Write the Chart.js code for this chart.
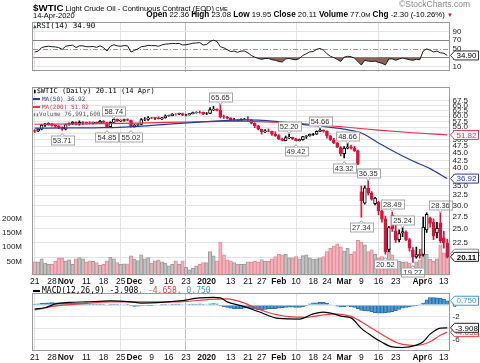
<!DOCTYPE html>
<html>
<head>
<meta charset="utf-8">
<script src="https://cdn.jsdelivr.net/npm/chart.js@4.4.1/dist/chart.umd.min.js"></script>
<style>
html, body { margin: 0; padding: 0; background: #fff; }
#wrap { position: relative; width: 480px; height: 363px; overflow: hidden; font-family: "Liberation Sans", Arial, sans-serif; color: #000; }
canvas { position: absolute; left: 0; }
.t { position: absolute; white-space: nowrap; }
.leg { position: absolute; white-space: nowrap; font-family: "DejaVu Sans Mono", monospace; font-size: 7.5px; line-height: 9px; }
.dash { display: inline-block; width: 7px; height: 2px; vertical-align: middle; margin-right: 2px; }
.st b { font-size: 8.2px; }
</style>
</head>
<body>
<div id="wrap">
  <canvas id="rsi" width="480" height="66" style="top:14px"></canvas>
  <canvas id="price" width="480" height="208" style="top:79px"></canvas>
  <canvas id="macd" width="480" height="78" style="top:285px"></canvas>

  <div class="t" style="left:33px;top:0px;line-height:12px"><b style="font-size:9.8px">$WTIC</b><span style="font-size:7.5px"> Light Crude Oil - Continuous Contract (EOD)</span><span style="font-size:5.5px"> CME</span></div>
  <div class="t" style="right:10px;top:0px;font-size:8.5px;line-height:9px;color:#888">©StockCharts.com</div>
  <div class="t" style="left:33px;top:10.5px;font-size:7.5px;line-height:9px">14-Apr-2020</div>
  <div class="t st" style="right:27px;top:10px;font-size:7.8px;line-height:9px"><b>Open</b> 22.36 <b>High</b> 23.08 <b>Low</b> 19.95 <b>Close</b> 20.11 <b>Volume</b> 77.0<span style="font-size:6.2px">M</span> <b>Chg</b> -2.30 (-10.26%) <span style="color:#c8102e;font-size:6px">▼</span></div>

  <div class="leg" style="left:33px;top:20.5px"><span style="color:#2d6b2d;font-size:6px">▲</span>RSI(14) 34.90</div>

  <div class="leg" style="left:33px;top:86px;font-size:7px"><span style="font-size:6px">▮</span>$WTIC (Daily) 20.11 (14 Apr)</div>
  <div class="leg" style="left:33px;top:94px;font-size:6px;color:#2b3a9e"><i class="dash" style="background:#2b3a9e"></i>MA(50) 36.92</div>
  <div class="leg" style="left:33px;top:101.5px;font-size:6px;color:#e3344c"><i class="dash" style="background:#e3344c"></i>MA(200) 51.82</div>
  <div class="leg" style="left:33px;top:108.5px;font-size:6px;color:#555"><span style="font-size:5px;color:#777">▮▮</span>Volume 76,991,600</div>

  <div class="leg" style="left:33px;top:286px;font-size:8px"><i class="dash" style="background:#000"></i>MACD(12,26,9) -3.908<span style="color:#f03c3c">, -4.658</span><span style="color:#3d9ad6">, 0.750</span></div>
</div>

<script>
// trading days, 21 Oct 2019 .. 14 Apr 2020
const dates = [
  '10/21','10/22','10/23','10/24','10/25','10/28','10/29','10/30','10/31',
  '11/01','11/04','11/05','11/06','11/07','11/08','11/11','11/12','11/13','11/14','11/15','11/18','11/19','11/20','11/21','11/22','11/25','11/26','11/27','11/29',
  '12/02','12/03','12/04','12/05','12/06','12/09','12/10','12/11','12/12','12/13','12/16','12/17','12/18','12/19','12/20','12/23','12/24','12/26','12/27','12/30','12/31',
  '01/02','01/03','01/06','01/07','01/08','01/09','01/10','01/13','01/14','01/15','01/16','01/17','01/21','01/22','01/23','01/24','01/27','01/28','01/29','01/30','01/31',
  '02/03','02/04','02/05','02/06','02/07','02/10','02/11','02/12','02/13','02/14','02/18','02/19','02/20','02/21','02/24','02/25','02/26','02/27','02/28',
  '03/02','03/03','03/04','03/05','03/06','03/09','03/10','03/11','03/12','03/13','03/16','03/17','03/18','03/19','03/20','03/23','03/24','03/25','03/26','03/27','03/30','03/31',
  '04/01','04/02','04/03','04/06','04/07','04/08','04/09','04/13','04/14'
];

const tickAt   = [0, 5, 9, 15, 20, 25, 29, 34, 39, 44, 50, 57, 62, 66, 71, 76, 81, 85, 90, 95, 100, 105, 112, 115, 119];
const tickText = ['21','28','Nov','11','18','25','Dec','9','16','23','2020','13','21','27','Feb','10','18','24','Mar','9','16','23','Apr','6','13'];
const monthText = ['Nov','Dec','2020','Feb','Mar','Apr'];

const open = [
  53.60,53.40,54.20,55.90,56.10, 56.50,55.80,55.50,55.00,54.20,
  56.20,56.50,57.20,56.30,57.10, 57.10,56.90,56.80,57.10,56.80,
  57.70,57.00,55.30,57.10,58.50, 57.80,58.00,58.40,58.10,55.20,
  56.00,56.20,58.40,58.40,59.20, 59.00,59.20,58.70,59.10,60.10,
  60.20,60.90,60.90,61.20,60.40, 60.50,61.10,61.70,61.70,61.70,
  61.20,61.20,63.10,63.30,62.80, 59.60,59.50,59.00,58.10,58.20,
  57.80,58.50,58.40,58.30,56.70, 55.60,54.10,53.10,53.50,53.30,
  52.10,51.60,50.10,49.60,50.70, 50.90,50.30,49.60,49.90,51.20,
  51.40,52.05,52.10,53.30,53.80, 53.40,51.40,49.90,48.70,47.00,
  44.80,46.80,47.20,46.80,45.90, 33.30,30.50,34.20,33.00,30.40,
  30.70,28.70,27.00,21.30,27.80, 24.60,23.00,24.20,24.40,23.00,
  21.20,20.10,20.50,20.50,24.80, 27.20,26.30,24.20,26.20,23.30,
  22.36
];
const high = [
  54.00,54.36,56.14,56.70,56.90, 56.65,56.00,55.70,55.20,56.40,
  56.90,57.50,57.40,57.80,57.40, 57.30,57.40,57.30,57.30,58.00,
  57.90,57.10,57.40,58.74,58.70, 58.30,58.60,58.70,58.20,56.30,
  56.50,58.80,59.30,59.80,59.40, 59.40,59.60,59.40,60.60,60.50,
  61.10,61.20,61.40,61.40,60.80, 61.20,61.90,62.00,62.30,61.90,
  61.60,64.10,64.70,63.50,65.65, 60.40,59.90,59.30,58.90,58.50,
  58.70,59.00,59.70,58.40,56.90, 55.80,54.20,54.00,54.30,53.40,
  53.10,52.00,50.60,51.40,52.20, 51.00,50.50,50.20,51.30,51.60,
  52.20,52.50,53.50,54.66,53.90, 53.50,51.70,50.50,48.80,47.30,
  47.30,48.66,47.90,47.40,46.10, 34.90,34.90,36.35,33.40,31.90,
  31.00,28.90,27.60,25.50,28.49, 26.30,24.80,25.24,24.60,23.20,
  21.60,21.70,21.30,27.39,28.30, 27.40,27.00,26.30,28.36,24.50,
  23.08
];
const low = [
  52.70,53.10,53.90,55.40,55.90, 55.50,54.90,54.40,53.71,53.90,
  55.90,56.10,56.00,55.90,56.20, 56.30,56.40,56.40,56.50,56.60,
  56.90,54.85,55.00,57.00,57.60, 57.40,57.70,57.90,55.02,55.00,
  55.40,56.00,57.90,58.00,58.80, 58.50,58.60,58.30,59.00,59.90,
  60.00,60.40,60.60,60.20,60.10, 60.40,61.00,61.30,61.40,60.60,
  60.60,61.10,62.60,62.40,59.15, 58.90,58.70,57.90,57.80,57.40,
  57.60,58.20,57.80,56.40,54.80, 53.90,52.10,52.70,53.00,51.60,
  51.20,49.90,49.50,49.50,50.30, 49.90,49.42,49.45,49.80,50.40,
  51.30,51.60,52.00,53.20,52.90, 50.50,49.70,48.40,46.90,44.00,
  43.32,46.50,46.40,45.60,41.10, 27.34,30.30,32.50,31.20,30.10,
  27.90,26.30,20.52,20.90,24.50, 22.50,22.60,23.50,22.80,21.00,
  19.27,19.90,19.90,20.20,24.30, 25.30,23.00,23.30,22.40,21.50,
  19.95
];
const close = [
  53.31,54.16,55.97,56.23,56.66, 55.81,55.54,55.06,54.18,56.20,
  56.54,57.23,56.35,57.15,57.24, 56.86,56.80,57.12,56.77,57.72,
  57.05,55.21,57.11,58.58,57.77, 58.01,58.41,58.11,55.17,55.96,
  56.10,58.43,58.43,59.20,59.02, 59.24,58.76,59.18,60.07,60.21,
  60.94,60.93,61.22,60.44,60.52, 61.11,61.68,61.72,61.68,61.06,
  61.18,63.05,63.27,62.70,59.61, 59.56,59.04,58.08,58.23,57.81,
  58.52,58.54,58.34,56.74,55.59, 54.19,53.14,53.48,53.33,52.14,
  51.56,50.11,49.61,50.75,50.95, 50.32,49.57,49.94,51.17,51.42,
  52.05,52.05,53.29,53.78,53.38, 51.43,49.90,48.73,47.09,44.76,
  46.75,47.18,46.78,45.90,41.28, 31.13,34.36,32.98,31.50,31.73,
  28.70,26.95,20.95,25.22,25.00, 22.90,24.10,24.49,23.00,21.51,
  20.09,20.48,20.31,25.32,28.00, 26.08,23.63,25.09,22.76,22.41,
  20.11
];
const prevClose = 53.78; // close of 18 Oct, colours the first bar

// volume, millions
const volume = [
  48,48,59,44,39, 39,50,62,62,52,
  55,39,59,63,59, 48,52,50,46,36,
  39,52,64,59,46, 39,41,41,69,59,
  53,73,59,63,44, 52,55,48,44,34,
  39,52,39,52,29, 20,25,34,39,46,
  46,84,69,52,118, 73,55,52,46,39,
  39,39,48,47,50, 47,56,50,50,59,
  67,75,73,75,62, 62,67,59,70,73,
  62,58,59,62,67, 84,96,104,112,101,
  86,96,75,84,124, 118,108,84,91,75,
  62,67,59,95,73, 52,50,47,48,44,
  33,48,55,95,75, 57,50,59,108,80,
  77
];

// moving averages read at sample days
const ma50At  = [0, 10, 20, 30, 40, 50, 55, 60, 65, 70, 75, 80, 85, 90, 95, 100, 105, 110, 115, 120];
const ma50Val = [54.6,54.7,54.8,55.4,56.5,57.5,57.9,58.2,58.1,57.6,56.8,55.9,55.2,54.2,52.6,48.7,45.2,42.3,39.9,36.92];
const ma200At  = [0, 15, 30, 45, 55, 62, 70, 80, 90, 100, 110, 120];
const ma200Val = [56.3,56.5,56.8,57.3,57.6,57.6,57.2,56.3,55.1,53.8,52.7,51.82];

const rsi = [
  42.6,45,53,55,56, 55,54.5,53,48.7,56,
  57.5,58.5,53,57,57, 55,55,55.5,53.5,57,
  53,45,56,59.5,57, 56,57.5,57,42.6,46.5,
  50,55,56,58,57.5, 57.5,56,59,61,61.5,
  62.5,62,62.5,59,59.5, 61,63,63.5,64.5,59,
  60,67,70,67,55, 52.5,48,44,45,42,
  45,45,41,35,31, 28,26,28,28,25,
  24,21,20,27,28, 26,25,28,35,39,
  43,44,49,51,47, 39,33,30,26,21,
  31,33,32,29,21, 13,24,22,21,22,
  19,17,13,27,27, 24,27,29,27,25,
  24,26,25,45,50, 47,43,45,41,40,
  34.9
];

const macdAt  = [0,3,6,10,15,22,28,31,37,42,48,52,54,56,60,65,71,77,81,84,87,89,92,95,98,101,104,107,111,113,115,118,120];
const macdVal = [-0.68,-0.46,0.2,0.46,0.56,0.71,0.56,0.35,0.46,0.71,1.23,1.33,1.25,0.56,-0.1,-1.1,-2.3,-2.4,-1.5,-1.2,-1.5,-1.9,-2.2,-4.0,-5.3,-6.4,-7.2,-7.3,-6.9,-6.3,-5.0,-3.95,-3.908];
const sigAt  = [0,6,13,22,30,42,51,56,60,67,74,79,81,87,92,97,102,106,111,115,118,120];
const sigVal = [-0.85,-0.15,0.2,0.56,0.56,0.56,1.0,1.08,0.56,-1.1,-2.0,-2.1,-1.95,-1.5,-1.95,-3.6,-5.4,-6.6,-6.95,-6.3,-5.2,-4.658];
const hist = [
  0.17,0.22,0.3,0.35,0.4, 0.42,0.4,0.38,0.3,0.35,
  0.38,0.4,0.32,0.33,0.3, 0.25,0.2,0.18,0.14,0.16,
  0.12,0.0,0.05,0.15,0.12, 0.1,0.1,0.06,-0.15,-0.22,
  -0.2,-0.12,-0.08,-0.02,-0.02, 0.0,0.0,0.03,0.08,0.1,
  0.14,0.14,0.15,0.1,0.1, 0.12,0.16,0.18,0.2,0.12,
  0.1,0.2,0.25,0.2,-0.05, -0.25,-0.4,-0.55,-0.6,-0.65,
  -0.6,-0.55,-0.5,-0.6,-0.7, -0.8,-0.85,-0.75,-0.65,-0.65,
  -0.6,-0.55,-0.45,-0.4,-0.35, -0.35,-0.4,-0.4,-0.25,-0.1,
  0.2,0.4,0.4,0.5,0.5, 0.3,0.1,0.0,-0.2,-0.3,
  -0.25,-0.2,-0.25,-0.4,-0.65, -0.9,-1.0,-1.05,-1.15,-1.3,
  -1.4,-1.4,-1.35,-1.25,-1.15, -0.95,-0.75,-0.55,-0.4,-0.3,
  -0.2,-0.05,0.1,0.35,0.9, 1.3,1.3,1.25,1.2,1.0,
  0.75
];

// price annotations (highs / lows)
const noteAt   = [8, 23, 21, 28, 54, 74, 76, 83, 91, 90, 97, 95, 104, 107, 102, 110, 118];
const noteVal  = [53.71, 58.74, 54.85, 55.02, 65.65, 52.20, 49.42, 54.66, 48.66, 43.32, 36.35, 27.34, 28.49, 25.24, 20.52, 19.27, 28.36];
const noteSide = ['dn','up','dn','dn','up','up','dn','up','up','dn','up','dn','up','up','dn','dn','up'];

const priceTicks = [20, 22.5, 25, 27.5, 30, 32.5, 35, 37.5, 40, 42.5, 45, 47.5, 50, 52.5, 55, 57.5, 60, 62.5, 65, 67.5];
const volTicks = [50, 100, 150, 200];
const rsiTicks = [10, 30, 50, 70, 90];
const macdTicks = [-6, -4, -2, 0];
const lastVolume = '76,991,600';

const RED = '#e2103a', BLUE = '#2b3a9e', MARED = '#e3344c';

Chart.defaults.font.family = '"Liberation Sans", Arial, sans-serif';
Chart.defaults.font.size = 8;
Chart.defaults.color = '#222';

const tickMap = {};
tickAt.forEach((i, k) => { tickMap[i] = tickText[k]; });
const isMonthLabel = l => monthText.includes(l);
const gridColor = i => tickMap[i] === undefined ? 'rgba(0,0,0,0)' : (isMonthLabel(tickMap[i]) ? '#bdbdbd' : '#e2e2e2');

const pts = (at, val) => at.map((i, k) => ({ x: dates[i], y: val[k] }));
const upDay = close.map((c, i) => c >= (i === 0 ? prevClose : close[i - 1]));
const candleColor = upDay.map(u => u ? '#000' : RED);

function xAxis(labels, h) {
  return {
    type: 'category', offset: true,
    grid: { offset: false, drawTicks: false, color: c => gridColor(c.index) },
    border: { display: false },
    ticks: {
      display: labels, autoSkip: false, maxRotation: 0, minRotation: 0, padding: 1.5, color: '#111',
      callback: (v, i) => tickMap[i] === undefined ? null : tickMap[i],
      font: c => ({ size: 8.5, weight: (c.tick && isMonthLabel(c.tick.label)) ? 'bold' : 'normal' })
    },
    afterFit: s => { s.height = h; }
  };
}
function rightAxis(extra) {
  return Object.assign({
    position: 'right',
    border: { display: false },
    grid: { drawTicks: false, color: '#e4e4e4' },
    ticks: { padding: 3.5, autoSkip: false, font: { size: 8 }, color: '#222' },
    afterFit: s => { s.width = 31; }
  }, extra);
}

const frame = {
  id: 'frame',
  afterDraw(chart) {
    const { ctx, chartArea: a } = chart;
    ctx.save();
    ctx.strokeStyle = '#9a9a9a';
    ctx.lineWidth = 1;
    ctx.strokeRect(Math.round(a.left) - 0.5, Math.round(a.top) + 0.5, Math.round(a.right - a.left) + 1, Math.round(a.bottom - a.top) - 1);
    ctx.restore();
  }
};

function tag(chart, y, text, border, color, bold, size) {
  const ctx = chart.ctx, x0 = chart.chartArea.right + 1.5, x1 = 478.5, h = 9;
  ctx.save();
  ctx.beginPath();
  ctx.moveTo(x0, y);
  ctx.lineTo(x0 + 4, y - h / 2);
  ctx.lineTo(x1, y - h / 2);
  ctx.lineTo(x1, y + h / 2);
  ctx.lineTo(x0 + 4, y + h / 2);
  ctx.closePath();
  ctx.fillStyle = '#fff';
  ctx.fill();
  ctx.strokeStyle = border;
  ctx.lineWidth = 1;
  ctx.stroke();
  ctx.fillStyle = color;
  ctx.font = (bold ? 'bold ' : '') + (size || 8) + 'px "Liberation Sans", Arial, sans-serif';
  ctx.textAlign = 'center';
  ctx.textBaseline = 'middle';
  ctx.fillText(text, (x0 + 4 + x1) / 2, y + 0.5);
  ctx.restore();
}

const common = {
  responsive: false, animation: false, devicePixelRatio: 1, events: [],
  plugins: { legend: { display: false }, tooltip: { enabled: false } }
};

// ---------- RSI ----------
new Chart(document.getElementById('rsi'), {
  type: 'line',
  data: {
    labels: dates,
    datasets: [
      { data: rsi, borderColor: '#1a1a1a', borderWidth: 1, pointRadius: 0, tension: 0,
        fill: { target: { value: 30 }, above: 'rgba(0,0,0,0)', below: 'rgba(120,72,60,0.85)' } },
      { data: rsi, borderWidth: 0, pointRadius: 0, tension: 0,
        fill: { target: { value: 70 }, above: 'rgba(120,72,60,0.85)', below: 'rgba(0,0,0,0)' } }
    ]
  },
  options: Object.assign({}, common, {
    layout: { padding: { left: 33, top: 5, bottom: 1, right: 0 } },
    scales: {
      x: xAxis(false, 0),
      y: rightAxis({
        min: -2.3, max: 110.9,
        afterBuildTicks: s => { s.ticks = rsiTicks.map(v => ({ value: v })); },
        grid: { drawTicks: false, color: c => (c.tick.value === 30 || c.tick.value === 70) ? '#8c8c8c' : (c.tick.value === 50 ? 'rgba(0,0,0,0)' : '#e4e4e4') }
      })
    }
  }),
  plugins: [frame, {
    id: 'mid',
    beforeDatasetsDraw(chart) {
      const { ctx, chartArea: a, scales: { y } } = chart;
      const py = Math.round(y.getPixelForValue(50)) + 0.5;
      ctx.save();
      ctx.strokeStyle = '#9a9a9a';
      ctx.setLineDash([5, 2, 1, 2]);
      ctx.beginPath(); ctx.moveTo(a.left, py); ctx.lineTo(a.right, py); ctx.stroke();
      ctx.restore();
    },
    afterDraw(chart) {
      const v = rsi[rsi.length - 1];
      tag(chart, chart.scales.y.getPixelForValue(v), v.toFixed(2), '#333', '#000', false);
    }
  }]
});

// ---------- Price + volume ----------
new Chart(document.getElementById('price'), {
  type: 'bar',
  data: {
    labels: dates,
    datasets: [
      { type: 'line', data: pts(ma50At, ma50Val), borderColor: BLUE, borderWidth: 1.2, pointRadius: 0, cubicInterpolationMode: 'monotone', yAxisID: 'y', order: 0 },
      { type: 'line', data: pts(ma200At, ma200Val), borderColor: MARED, borderWidth: 1.2, pointRadius: 0, cubicInterpolationMode: 'monotone', yAxisID: 'y', order: 0 },
      { data: open.map((o, i) => [o, close[i] === o ? o + 0.05 : close[i]]), yAxisID: 'y', grouped: false, barThickness: 3, order: 1,
        backgroundColor: close.map((c, i) => c > open[i] ? '#fff' : candleColor[i]), borderColor: candleColor, borderWidth: 1, borderSkipped: false },
      { data: low.map((l, i) => [l, high[i]]), yAxisID: 'y', grouped: false, barThickness: 1, order: 2,
        backgroundColor: candleColor, borderWidth: 0 },
      { data: volume, yAxisID: 'yv', grouped: false, barPercentage: 1, categoryPercentage: 1, order: 3,
        backgroundColor: upDay.map(u => u ? '#c2c2c2' : '#f2b3ba'), borderColor: upDay.map(u => u ? '#9c9c9c' : '#e38a97'),
        borderWidth: 1, borderSkipped: 'start' }
    ]
  },
  options: Object.assign({}, common, {
    layout: { padding: 0 },
    scales: {
      x: xAxis(true, 11.5),
      y: rightAxis({
        type: 'logarithmic', min: 17.4, max: 75,
        afterBuildTicks: s => { s.ticks = priceTicks.map(v => ({ value: v })); },
        ticks: { padding: 3.5, autoSkip: false, font: { size: 8 }, color: '#222', callback: v => Number(v).toFixed(1) }
      }),
      yv: {
        position: 'left', min: 0, max: 664,
        afterBuildTicks: s => { s.ticks = volTicks.map(v => ({ value: v })); },
        grid: { display: false }, border: { display: false },
        ticks: { padding: 3, autoSkip: false, font: { size: 8 }, color: '#222', callback: v => v + 'M' },
        afterFit: s => { s.width = 33; }
      }
    }
  }),
  plugins: [frame, {
    id: 'notes',
    afterDatasetsDraw(chart) {
      const { ctx, scales: { x, y } } = chart;
      ctx.save();
      ctx.font = '7.5px "Liberation Sans", Arial, sans-serif';
      ctx.textAlign = 'center';
      ctx.textBaseline = 'middle';
      noteAt.forEach((i, k) => {
        const v = noteVal[k], txt = v.toFixed(2);
        const px = x.getPixelForValue(i), py = y.getPixelForValue(v);
        const up = noteSide[k] === 'up';
        const w = Math.round(ctx.measureText(txt).width) + 4, h = 9;
        const cy = Math.round(up ? py - 7.5 : py + 9.5);
        const bx = Math.round(px - w / 2) + 0.5, by = cy - h / 2 + 0.5;
        ctx.fillStyle = '#fff';
        ctx.strokeStyle = '#a8a8a8';
        ctx.lineWidth = 1;
        ctx.fillRect(bx, by, w, h);
        ctx.strokeRect(bx, by, w, h);
        ctx.beginPath();
        const tipY = up ? by + h : by;
        ctx.moveTo(px - 2, tipY);
        ctx.lineTo(px, up ? tipY + 2.5 : tipY - 2.5);
        ctx.lineTo(px + 2, tipY);
        ctx.fillStyle = '#fff';
        ctx.fill();
        ctx.stroke();
        ctx.fillStyle = '#333';
        ctx.fillText(txt, px, cy + 1);
      });
      ctx.restore();
    },
    afterDraw(chart) {
      const y = chart.scales.y, yv = chart.scales.yv;
      const m200 = ma200Val[ma200Val.length - 1], m50 = ma50Val[ma50Val.length - 1], c = close[close.length - 1];
      tag(chart, y.getPixelForValue(m200), m200.toFixed(2), MARED, MARED, false);
      tag(chart, y.getPixelForValue(m50), m50.toFixed(2), BLUE, BLUE, false);
      tag(chart, yv.getPixelForValue(volume[volume.length - 1]), lastVolume, '#888', '#666', false, 6);
      tag(chart, y.getPixelForValue(c), c.toFixed(2), '#222', '#000', true);
    }
  }]
});

// ---------- MACD ----------
new Chart(document.getElementById('macd'), {
  type: 'bar',
  data: {
    labels: dates,
    datasets: [
      { type: 'line', data: pts(macdAt, macdVal), borderColor: '#000', borderWidth: 1.2, pointRadius: 0, cubicInterpolationMode: 'monotone', order: 0 },
      { type: 'line', data: pts(sigAt, sigVal), borderColor: '#f03c3c', borderWidth: 1.2, pointRadius: 0, cubicInterpolationMode: 'monotone', order: 1 },
      { data: hist, backgroundColor: '#4b9bd4', borderColor: '#2a6fa8', borderWidth: 1, borderSkipped: 'start',
        barPercentage: 1, categoryPercentage: 1, order: 2 }
    ]
  },
  options: Object.assign({}, common, {
    layout: { padding: { left: 33, top: 1, bottom: 0, right: 0 } },
    scales: {
      x: xAxis(true, 12),
      y: rightAxis({
        min: -7.9, max: 2.03,
        afterBuildTicks: s => { s.ticks = macdTicks.map(v => ({ value: v })); }
      })
    }
  }),
  plugins: [frame, {
    id: 'tags',
    afterDraw(chart) {
      const y = chart.scales.y;
      const h = hist[hist.length - 1], s = sigVal[sigVal.length - 1], m = macdVal[macdVal.length - 1];
      tag(chart, y.getPixelForValue(h), h.toFixed(3), '#3d9ad6', '#3d9ad6', false);
      tag(chart, y.getPixelForValue(s), s.toFixed(3), '#f03c3c', '#f03c3c', false);
      tag(chart, y.getPixelForValue(m), m.toFixed(3), '#222', '#000', false);
    }
  }]
});
</script>
</body>
</html>
